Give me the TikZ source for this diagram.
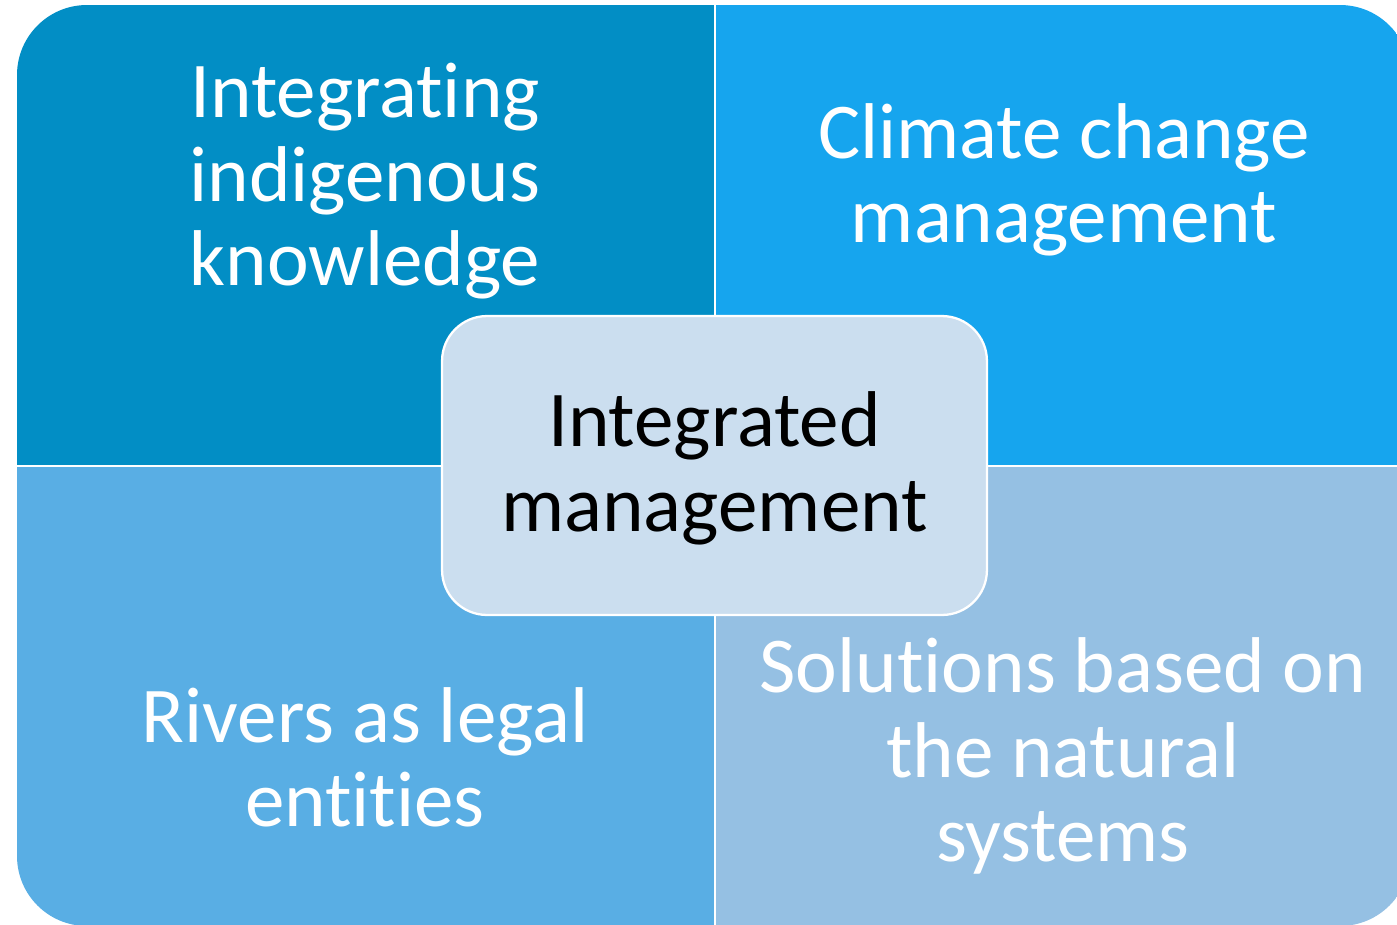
\documentclass[tikz,border=0pt]{standalone}
\usepackage{fontspec}
\setmainfont[Ligatures=NoCommon]{Carlito}
\definecolor{tlblue}{HTML}{028EC5}
\definecolor{trblue}{HTML}{16A5EE}
\definecolor{blblue}{HTML}{59AEE4}
\definecolor{brblue}{HTML}{95C0E3}
\definecolor{hubblue}{HTML}{CBDEEF}
\tikzset{
  lbl/.style={align=center,text=white,font=\fontsize{45}{48}\selectfont},
  hub/.style={draw=white,line width=1.3pt,fill=hubblue,rounded corners=0.9cm,
    minimum width=10.9cm,minimum height=5.98cm,align=center,
    font=\fontsize{45}{48}\selectfont}
}
\begin{document}
\begin{tikzpicture}[x=0.02cm,y=-0.02cm]
                \useasboundingbox (0,0) rectangle (1397,924);
                \begin{scope}
                \clip[rounded corners=1.4cm] (17,5) rectangle (1410,926);
                \fill[tlblue] (17,5) rectangle (715,466);
                \fill[trblue] (715,5) rectangle (1410,466);
                \fill[blblue] (17,466) rectangle (715,926);
                \fill[brblue] (715,466) rectangle (1410,926);
                \draw[white,line width=1.5pt] (715,5) -- (715,926);
                \draw[white,line width=1.5pt] (17,466) -- (1410,466);
                \end{scope}

                \node[lbl] (know) at (365,181) {Integrating\\indigenous\\knowledge};
                \node[lbl] (climate) at (1064,180) {Climate change\\management};
                \node[lbl] (rivers) at (365,757) {Rivers as legal\\entities};
                \node[lbl] (nature) at (1063,756) {Solutions based on\\the natural\\systems};

                \node[hub] (hub) at (714.5,465.5) {\raisebox{-10pt}[0pt][0pt]{\begin{tabular}{@{}c@{}}Integrated\\management\end{tabular}}};
            \end{tikzpicture}
\end{document}
